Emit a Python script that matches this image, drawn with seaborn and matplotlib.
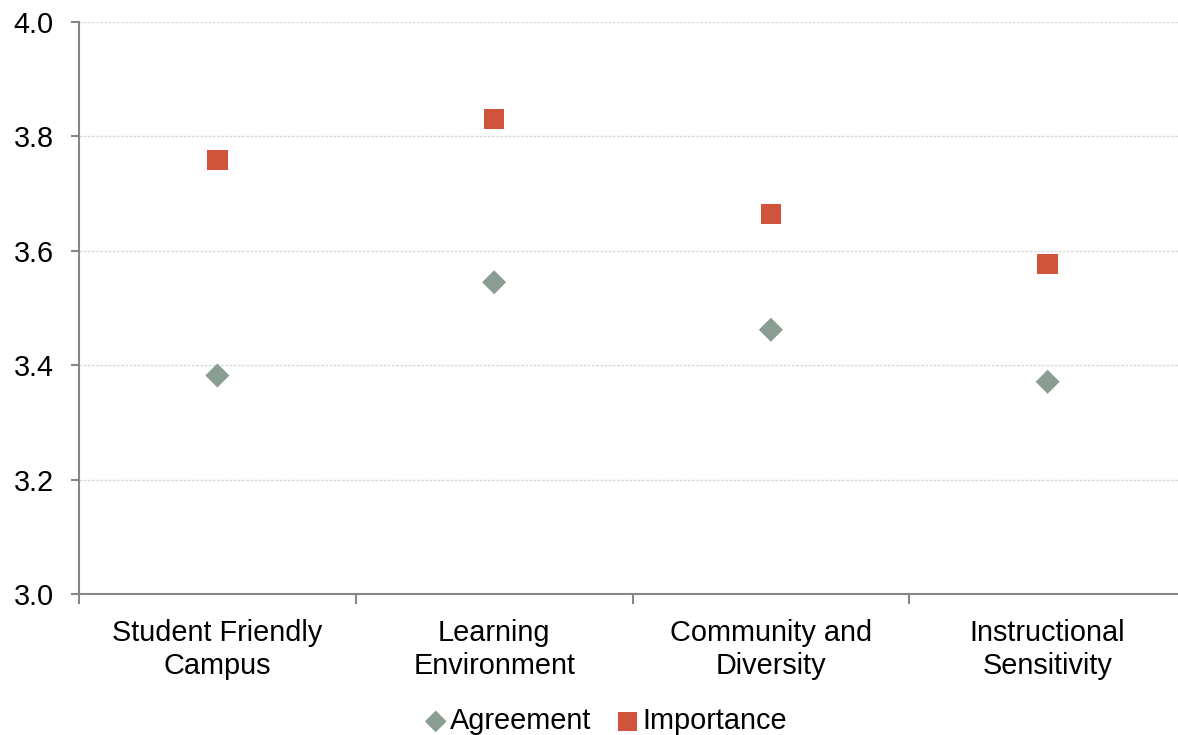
import matplotlib
matplotlib.use("Agg")
import matplotlib.pyplot as plt
import seaborn as sns
import pandas as pd
import numpy as np
from matplotlib.ticker import FixedLocator, MultipleLocator, FormatStrFormatter

categories = ["Student Friendly\nCampus", "Learning\nEnvironment",
              "Community and\nDiversity", "Instructional\nSensitivity"]
agreement = [3.382, 3.545, 3.462, 3.371]
importance = [3.759, 3.830, 3.664, 3.577]
series_names = ["Agreement", "Importance"]

df = pd.DataFrame({
    "Category": categories * 2,
    "Score": agreement + importance,
    "Measure": [series_names[0]] * len(categories) + [series_names[1]] * len(categories),
})

sns.set_theme(style="white")
plt.rcParams["font.family"] = ["Liberation Sans", "DejaVu Sans"]
plt.rcParams["text.color"] = "black"

FS = 20.8

fig = plt.figure(figsize=(11.78, 7.35), dpi=100)
ax = fig.add_axes([79 / 1178, 1 - 594 / 735, 1107 / 1178, 572 / 735])

palette = {"Agreement": "#8A9D92", "Importance": "#D0533B"}
markers = {"Agreement": "D", "Importance": "s"}

for name in series_names:
    sub = df[df["Measure"] == name]
    sns.scatterplot(data=sub, x="Category", y="Score", ax=ax,
                    marker=markers[name], color=palette[name],
                    s=150 if name == "Agreement" else 215,
                    edgecolor="none", label=name, zorder=3)

ax.set_xlim(-0.5, len(categories) - 0.5)
ax.set_ylim(3.0, 4.0)
ax.yaxis.set_major_locator(MultipleLocator(0.2))
ax.yaxis.set_major_formatter(FormatStrFormatter("%.1f"))

ax.set_xlabel("")
ax.set_ylabel("")

# gridlines
ax.grid(axis="y", color="#DADADA", linestyle=(0, (2, 1)), linewidth=1.0, zorder=0)
ax.grid(axis="x", visible=False)

for side in ["top", "right"]:
    ax.spines[side].set_visible(False)
for side in ["left", "bottom"]:
    ax.spines[side].set_color("#868686")
    ax.spines[side].set_linewidth(1.5)

ax.tick_params(axis="y", which="major", direction="out", length=6, width=1.5,
               color="#868686", labelsize=FS, labelcolor="black", pad=12, left=True)
ax.tick_params(axis="x", which="major", length=0, labelsize=FS,
               labelcolor="black", pad=18)
ax.xaxis.set_minor_locator(FixedLocator(np.arange(-0.5, len(categories), 1.0)))
ax.tick_params(axis="x", which="minor", direction="out", length=7, width=1.5,
               color="#868686", bottom=True)
for lbl in ax.get_xticklabels():
    lbl.set_linespacing(1.22)

handles, labels = ax.get_legend_handles_labels()
ax.get_legend().remove()
leg = fig.legend(handles, labels, loc="center",
                 bbox_to_anchor=(604 / 1178, 1 - 721 / 735),
                 ncol=2, frameon=False, fontsize=FS, handletextpad=0.0,
                 handlelength=1.0, columnspacing=0.75, markerscale=0.9,
                 borderaxespad=0, borderpad=0)
for t in leg.get_texts():
    t.set_color("black")

fig.savefig("out.png", dpi=100, facecolor="white")
